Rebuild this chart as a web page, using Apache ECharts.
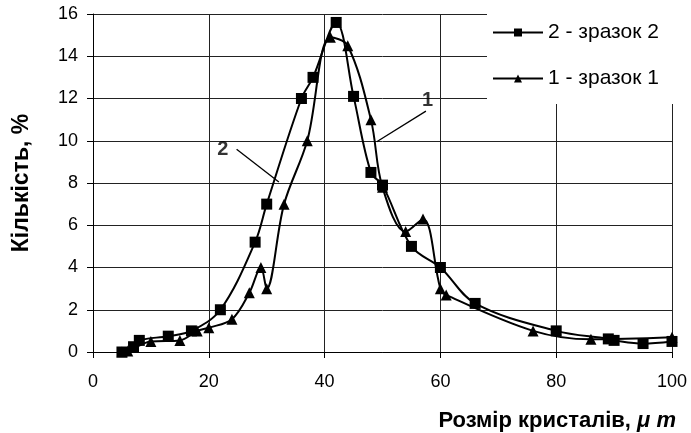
<!DOCTYPE html>
<html>
<head>
<meta charset="utf-8">
<script src="https://cdn.jsdelivr.net/npm/echarts@6/dist/echarts.min.js"></script>
<style>
html,body{margin:0;padding:0;background:#fff;}
#chart{width:691px;height:433px;}
</style>
</head>
<body>
<div id="chart"></div>
<script>
// Sample 2 (squares)
const sample2X = [5, 7, 8, 13, 17, 22, 28, 30, 36, 38, 42, 45, 48, 50, 55, 60, 66, 80, 89, 90, 95, 100];
const sample2Y = [0, 0.25, 0.55, 0.75, 1.0, 2.0, 5.2, 7.0, 12.0, 13.0, 15.6, 12.1, 8.5, 7.9, 5.0, 4.0, 2.3, 1.0, 0.62, 0.55, 0.4, 0.5];
// Sample 1 (triangles)
const sample1X = [5, 6, 10, 15, 18, 20, 24, 27, 29, 30, 33, 37, 41, 44, 48, 50, 54, 57, 60, 61, 76, 86, 100];
const sample1Y = [0, 0.05, 0.5, 0.55, 1.0, 1.15, 1.55, 2.8, 4.0, 3.0, 7.0, 10.0, 14.9, 14.5, 11.0, 7.8, 5.7, 6.3, 3.0, 2.7, 1.0, 0.6, 0.7];
const seriesNames = ['2 - зразок 2', '1 - зразок 1'];
const xTicks = [0, 20, 40, 60, 80, 100];
const yTicks = [0, 2, 4, 6, 8, 10, 12, 14, 16];
// Annotation leader lines (data coordinates) and labels
const note2Line = [[24.8, 9.6], [32.1, 8.05]];
const note2Label = [22.4, 9.6, '2'];
const note1Line = [[57.5, 11.4], [49.0, 9.95]];
const note1Label = [57.8, 11.9, '1'];

const zip = (xs, ys) => xs.map((x, i) => [x, ys[i]]);

const chart = echarts.init(document.getElementById('chart'), null, {renderer: 'canvas'});
const FONT = '"Liberation Sans", Arial, sans-serif';
const option = {
  animation: false,
  backgroundColor: '#fff',
  textStyle: {fontFamily: FONT, color: '#000'},
  grid: {left: 93, right: 19, top: 14, bottom: 81, containLabel: false},
  title: {
    text: '{a|Розмір кристалів, }{m|μ m}',
    right: 10, top: 405,
    textStyle: {
      rich: {
        a: {fontFamily: FONT, fontSize: 22, fontWeight: 'bold', color: '#000'},
        m: {fontFamily: FONT, fontSize: 22, fontWeight: 'bold', fontStyle: 'italic', color: '#000'}
      }
    }
  },
  legend: {
    orient: 'vertical',
    left: 487, top: 0,
    padding: [22, 31, 15, 5],
    backgroundColor: '#fff',
    itemGap: 25,
    itemWidth: 50, itemHeight: 10,
    data: seriesNames,
    textStyle: {fontFamily: FONT, fontSize: 21, color: '#000'}
  },
  xAxis: {
    type: 'value', min: xTicks[0], max: xTicks[xTicks.length - 1], interval: 20,
    axisLine: {show: true, lineStyle: {color: '#000', width: 1}},
    axisTick: {show: true, inside: false, length: 6, lineStyle: {color: '#000'}},
    axisLabel: {fontFamily: FONT, fontSize: 18, color: '#000', margin: 21},
    splitLine: {show: true, lineStyle: {color: '#222', width: 1}}
  },
  yAxis: {
    type: 'value', min: yTicks[0], max: yTicks[yTicks.length - 1], interval: 2,
    name: 'Кількість, %', nameLocation: 'middle', nameGap: 60,
    nameTextStyle: {fontFamily: FONT, fontSize: 23, fontWeight: 'bold', color: '#000'},
    axisLine: {show: true, lineStyle: {color: '#000', width: 1}},
    axisTick: {show: true, inside: false, length: 6, lineStyle: {color: '#000'}},
    axisLabel: {fontFamily: FONT, fontSize: 18, color: '#000', margin: 15},
    splitLine: {show: true, lineStyle: {color: '#222', width: 1}}
  },
  series: [
    {
      name: seriesNames[0], type: 'line', smooth: 0.35,
      data: zip(sample2X, sample2Y),
      symbol: 'rect', symbolSize: 11,
      lineStyle: {color: '#000', width: 2},
      itemStyle: {color: '#000'},
      z: 3
    },
    {
      name: seriesNames[1], type: 'line', smooth: 0.35,
      data: zip(sample1X, sample1Y),
      symbol: 'triangle', symbolSize: 11,
      lineStyle: {color: '#000', width: 2},
      itemStyle: {color: '#000'},
      z: 3
    },
    {
      type: 'line', silent: true, data: note2Line, symbol: 'none',
      lineStyle: {color: '#000', width: 1.3}, z: 4
    },
    {
      type: 'line', silent: true, data: note1Line, symbol: 'none',
      lineStyle: {color: '#000', width: 1.3}, z: 4
    },
    {
      type: 'scatter', silent: true, symbolSize: 0,
      data: [note2Label, note1Label],
      label: {
        show: true, position: 'inside',
        formatter: p => p.value[2],
        fontFamily: FONT, fontSize: 20, fontWeight: 'bold', color: '#000'
      },
      z: 5
    }
  ]
};
chart.setOption(option);
</script>
</body>
</html>
